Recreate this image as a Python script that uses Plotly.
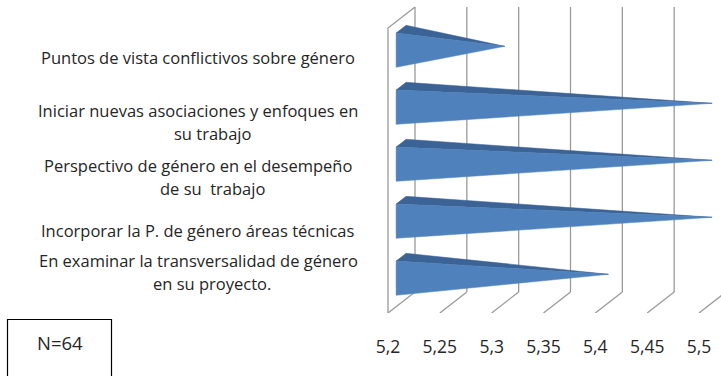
import plotly.graph_objects as go

# Survey items (top to bottom) and their mean scores
categories = [
    "Puntos de vista conflictivos sobre género",
    "Iniciar nuevas asociaciones y enfoques en<br>su trabajo",
    "Perspectivo de género en el desempeño<br>de su  trabajo",
    "Incorporar la P. de género áreas técnicas",
    "En examinar la transversalidad de género<br>en su proyecto.",
]
values = [5.3, 5.5, 5.5, 5.5, 5.4]
tick_values = [5.2, 5.25, 5.3, 5.35, 5.4, 5.45, 5.5]
tick_labels = ["5,2", "5,25", "5,3", "5,35", "5,4", "5,45", "5,5"]
sample_note = "N=64"

W, H = 721, 376
ML, MR, MT, MB = 380, 0, 0, 63
PW, PH = W - ML - MR, H - MT - MB

BASE = tick_values[0]
X_PX = 1036.67          # pixels per unit along the value axis
Y_PX = 57.0             # pixels per category
x_lo = BASE - 8 / X_PX
x_hi = x_lo + PW / X_PX
y_bottom = len(categories) - 0.5
y_front_top = -0.5
y_top = y_front_top - 28 / Y_PX

# oblique projection for the depth direction (z in 0..1)
DX = 27 / X_PX
DY = -21 / Y_PX


def proj(x, y, z):
    return x + z * DX, y + z * DY


GRID = "#9A9A9A"
LIGHT = "#4F81BD"
DARK = "#3B6395"

fig = go.Figure()


def line(pts, color=GRID, width=1.3):
    xs = [p[0] for p in pts]
    ys = [p[1] for p in pts]
    fig.add_trace(go.Scatter(x=xs, y=ys, mode="lines",
                             line=dict(color=color, width=width),
                             hoverinfo="skip", showlegend=False))


# back wall gridlines and floor ticks
for t in tick_values:
    line([proj(t, y_bottom, 1), proj(t, y_front_top, 1)])
    line([proj(t, y_bottom, 0), proj(t, y_bottom, 1)])

# left wall front edge and top edge
line([proj(BASE, y_bottom, 0), proj(BASE, y_front_top, 0), proj(BASE, y_front_top, 1)])

# pyramids
Z0, Z1 = 0.30, 0.67
ZM = (Z0 + Z1) / 2
HALF = 0.30
for i, v in enumerate(values):
    apex = proj(v, i, ZM)
    ft = proj(BASE, i - HALF, Z0)
    fb = proj(BASE, i + HALF, Z0)
    bt = proj(BASE, i - HALF, Z1)
    top = [ft, bt, apex, ft]
    front = [ft, fb, apex, ft]
    for poly, col in ((top, DARK), (front, LIGHT)):
        fig.add_trace(go.Scatter(
            x=[p[0] for p in poly], y=[p[1] for p in poly],
            mode="lines", fill="toself", fillcolor=col,
            line=dict(color=col, width=0.5),
            hoverinfo="skip", showlegend=False))


def paper_x(px):
    return (px - ML) / PW


def paper_y(py):
    return (MT + PH - py) / PH


FONT = "'Open Sans', 'Noto Sans', sans-serif"
TEXT = "#262626"
LABEL_SIZE = 16.5
LINE_STEP = 23          # px between wrapped label lines
WRAP_INDENT = 14        # wrapped lines sit slightly right of the first line
label_nudge = [-1, 3, 5, -3, 24]   # px upward shift of each label block

for i, label in enumerate(categories):
    for k, part in enumerate(label.split("<br>")):
        fig.add_annotation(x=paper_x(198), xref="paper", y=i, yref="y",
                           text=part, showarrow=False,
                           xanchor="center", yanchor="middle",
                           xshift=WRAP_INDENT if k else 0,
                           yshift=label_nudge[i] - k * LINE_STEP,
                           font=dict(family=FONT, size=LABEL_SIZE, color=TEXT))

# sample size box
fig.add_shape(type="rect", xref="paper", yref="paper",
              x0=paper_x(7.5), x1=paper_x(111.5),
              y0=paper_y(319.5), y1=paper_y(390),
              line=dict(color="#000000", width=1.2), fillcolor="rgba(0,0,0,0)")
fig.add_annotation(x=paper_x(60), xref="paper", y=paper_y(342), yref="paper",
                   text=sample_note, showarrow=False,
                   xanchor="center", yanchor="middle",
                   font=dict(family=FONT, size=18.5, color=TEXT))

fig.update_layout(
    width=W, height=H,
    margin=dict(l=ML, r=MR, t=MT, b=MB),
    paper_bgcolor="white", plot_bgcolor="white",
    showlegend=False,
    xaxis=dict(range=[x_lo, x_hi], tickvals=tick_values, ticktext=tick_labels,
               showgrid=False, zeroline=False, showline=False, ticks="",
               ticklabelstandoff=21,
               tickfont=dict(family=FONT, size=17.5, color=TEXT)),
    yaxis=dict(range=[y_bottom, y_top], showgrid=False, zeroline=False,
               showline=False, showticklabels=False, ticks=""),
)

fig.write_html("out.html")
